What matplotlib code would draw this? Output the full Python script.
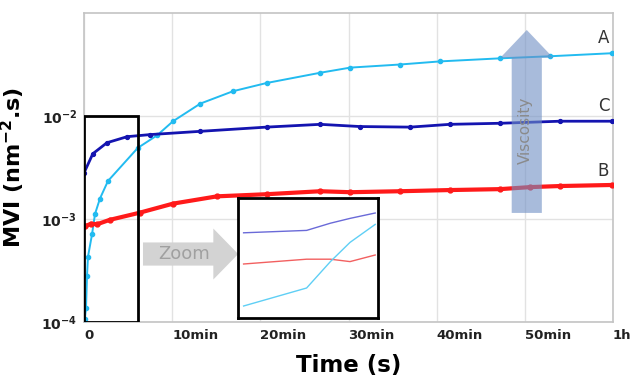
import matplotlib.pyplot as plt
from matplotlib.patches import FancyArrow, Rectangle

# time in minutes, MVI in nm^-2.s
t_a = [0.1, 0.23, 0.34, 0.45, 0.91, 1.25, 1.81, 2.72, 6.1, 8.3, 10.1, 13.2, 16.9, 20.7,
       26.8, 30.2, 35.8, 40.4, 47.2, 52.8, 59.9]
mvi_a = [1.07e-4, 1.38e-4, 2.8e-4, 4.3e-4, 7.1e-4, 1.12e-3, 1.58e-3, 2.34e-3, 4.9e-3,
         6.5e-3, 8.9e-3, 1.32e-2, 1.74e-2, 2.09e-2, 2.63e-2, 2.95e-2, 3.16e-2, 3.39e-2,
         3.63e-2, 3.8e-2, 4.07e-2]

t_c = [0.0, 1.0, 2.6, 4.9, 7.5, 13.2, 20.7, 26.8, 31.3, 37.0, 41.5, 47.2, 54.0, 59.9]
mvi_c = [2.8e-3, 4.3e-3, 5.5e-3, 6.3e-3, 6.6e-3, 7.1e-3, 7.8e-3, 8.3e-3, 7.9e-3, 7.8e-3,
         8.3e-3, 8.5e-3, 8.9e-3, 8.9e-3]

t_b = [0.1, 0.8, 1.5, 2.9, 6.3, 10.1, 15.1, 20.7, 26.8, 30.2, 35.8, 41.5, 47.2, 50.6,
       54.0, 59.9]
mvi_b = [8.5e-4, 9.0e-4, 8.9e-4, 9.8e-4, 1.15e-3, 1.41e-3, 1.66e-3, 1.74e-3, 1.86e-3,
         1.82e-3, 1.86e-3, 1.91e-3, 1.95e-3, 2.04e-3, 2.09e-3, 2.14e-3]

# zoomed inset (relative units)
zx = [0.04, 0.49, 0.66, 0.80, 0.98]
zoom_a = [0.10, 0.25, 0.47, 0.63, 0.78]
zoom_b = [0.45, 0.49, 0.49, 0.47, 0.525]
zoom_c = [0.71, 0.73, 0.79, 0.83, 0.875]

xticks = [0, 10, 20, 30, 40, 50, 60]
xlabels = ['0', '10min', '20min', '30min', '40min', '50min', '1h']
yticks = [1e-4, 1e-3, 1e-2]
ylabels = [r'$\mathbf{10^{-4}}$', r'$\mathbf{10^{-3}}$', r'$\mathbf{10^{-2}}$']

col_a = '#22bbf0'
col_b = '#ff1a1a'
col_c = '#1414b0'

fig = plt.figure(figsize=(6.32, 3.83), dpi=100)
ax = fig.add_axes([84/632, 1-322/383, 529/632, 309/383])

ax.plot(t_a, mvi_a, color=col_a, lw=1.4, marker='o', ms=3, zorder=4)
ax.plot(t_c, mvi_c, color=col_c, lw=2.0, marker='o', ms=2.8, zorder=4)
ax.plot(t_b, mvi_b, color=col_b, lw=3, marker='o', ms=3.5, zorder=4)

ax.set_yscale('log')
ax.set_xlim(0, 60)
ax.set_ylim(1e-4, 1e-1)
ax.set_xticks(xticks)
ax.set_xticklabels(xlabels, fontsize=9.5, fontweight='bold', color='#222222')
for lab in ax.get_xticklabels():
    lab.set_horizontalalignment('left')
ax.set_yticks(yticks)
ax.set_yticklabels(ylabels, fontsize=10, color='#222222')
ax.minorticks_off()
ax.tick_params(length=0, pad=5)
ax.grid(True, color='#e2e2e2', lw=1)
ax.set_axisbelow(True)
for s in ax.spines.values():
    s.set_color('#c4c4c4')
    s.set_linewidth(1.2)

ax.set_xlabel('Time (s)', fontsize=16.5, fontweight='bold', labelpad=9)
ax.set_ylabel('MVI (nm$^{\\mathbf{-2}}$.s)', fontsize=16, fontweight='bold', labelpad=10)

# black box around the first minutes
ax.add_patch(Rectangle((0, 1e-4), 6.1, 1e-2 - 1e-4, fill=False, ec='black', lw=2, zorder=5))

# grey "Zoom" arrow
ax.add_patch(FancyArrow(0.1115, 0.22, 0.18, 0, width=0.075, head_width=0.165,
                        head_length=0.047, length_includes_head=True,
                        transform=ax.transAxes, color='#d3d3d3', lw=0, zorder=3))
ax.text(0.19, 0.22, 'Zoom', transform=ax.transAxes, fontsize=13, color='#a0a0a0',
        ha='center', va='center', zorder=6)

# viscosity arrow
ax.add_patch(FancyArrow(0.837, 0.353, 0, 0.592, width=0.057, head_width=0.10,
                        head_length=0.09, length_includes_head=True,
                        transform=ax.transAxes, color='#6f8fc4', alpha=0.6, lw=0, zorder=5))
ax.text(0.835, 0.62, 'Viscosity', transform=ax.transAxes, rotation=90, fontsize=11,
        color='#8a8a8a', ha='center', va='center', zorder=6)

for name, yf in [('A', 0.92), ('C', 0.70), ('B', 0.49)]:
    ax.text(0.982, yf, name, transform=ax.transAxes, fontsize=12, color='#333333',
            ha='center', va='center')

# inset
ins = fig.add_axes([238/632, 1-318/383, 140/632, 120/383])
ins.plot(zx, zoom_c, color='#6a6ad8', lw=1)
ins.plot(zx, zoom_b, color='#f26060', lw=1)
ins.plot(zx, zoom_a, color='#5fcff5', lw=1)
ins.set_xlim(0, 1)
ins.set_ylim(0, 1)
ins.set_xticks([])
ins.set_yticks([])
for s in ins.spines.values():
    s.set_color('black')
    s.set_linewidth(2)

fig.savefig('out.png', dpi=100)
